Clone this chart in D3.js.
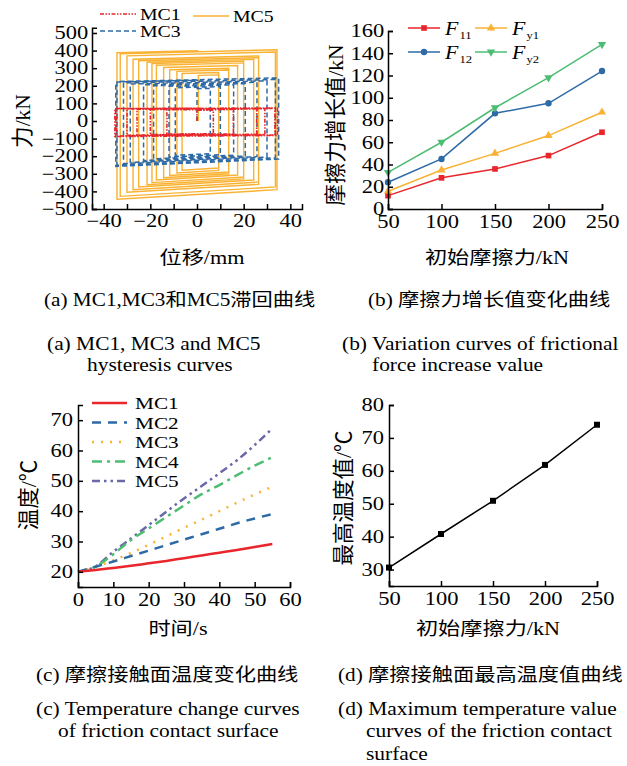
<!DOCTYPE html>
<html>
<head>
<meta charset="utf-8">
<script src="https://cdn.jsdelivr.net/npm/d3@7"></script>
<style>
  body { margin: 0; background: #fff; }
  svg { display: block; }
</style>
</head>
<body>
<svg id="fig" width="627" height="766"></svg>
<script>
// ---- data ----
// (a) hysteresis loops: each cycle goes up at the previous left end, across to right[i],
// down and back to left[i]
var mc5Right = [9.3, 9.3, 13.6, 13.6, 17.4, 20.0, 20.0, 24.3, 26.4, 26.4, 33.6, 34.3, 0.6];
var mc5Top   = [262, 275, 290, 300, 315, 330, 340, 350, 360, 370, 392, 405, 400];
var mc5Left  = [-6.4, -8.6, -11.7, -14.3, -17.4, -19.3, -21.4, -25.0, -27.4, -30.0, -32.9, -34.3];
var mc5Bot   = [-280, -295, -310, -322, -335, -350, -362, -375, -390, -405, -428, -445];

var mc3Right = [5.7, 10.0, 15.7, 20.7, 25.7, 30.0, 33.6, 35.0, 0.5];
var mc3Top   = [185, 195, 205, 212, 220, 228, 236, 245, 232];
var mc3Left  = [-9.3, -12.0, -18.6, -22.9, -28.6, -31.5, -34.3, -34.8];
var mc3Bot   = [-195, -205, -215, -225, -235, -242, -250, -258];

var mc1Right = [7.0, 15.6, 25.6, 29.1, 33.4, 34.5, 0.5];
var mc1Top   = [62, 65, 68, 70, 72, 74, 72];
var mc1Left  = [-12.9, -20.0, -25.7, -30.0, -34.5, -35.2];
var mc1Bot   = [-74, -77, -80, -82, -85, -88];

// (b) friction force increase
var initForce = [50, 100, 150, 200, 250];
var f11 = [12, 28, 36, 48, 69];
var f12 = [24, 45, 86, 95, 124];
var fy1 = [16, 35, 50, 66, 87];
var fy2 = [33, 60, 91, 118, 148];

// (c) temperature vs time
var time = [0, 5, 10, 15, 20, 25, 30, 35, 40, 45, 50, 55];
var tMC1 = [20, 20.6, 21.3, 22.0, 22.8, 23.6, 24.5, 25.4, 26.3, 27.2, 28.2, 29.2];
var tMC2 = [20, 21.7, 23.4, 25.2, 27.0, 28.8, 30.6, 32.4, 34.2, 36.0, 37.6, 39.0];
var tMC3 = [20, 21.7, 23.8, 26.2, 28.9, 31.7, 34.5, 37.2, 40.0, 42.8, 45.5, 48.0];
var tMC4 = [20, 21.8, 25.8, 30.5, 34.3, 38.1, 41.9, 45.6, 48.6, 51.9, 55.0, 57.8];
var tMC5 = [20, 21.8, 26.6, 31.0, 35.4, 39.8, 44.2, 48.3, 52.5, 56.8, 61.8, 67.3];

// (d) max temperature
var maxTemp = [30.6, 40.8, 50.9, 61.8, 74.0];

// captions: text, left x, baseline y, font size
var captions = [
  ["(a) MC1,MC3和MC5滞回曲线", 44, 306, 18], ["(b) 摩擦力增长值变化曲线", 368, 306, 18],
  ["(a) MC1, MC3 and MC5", 47, 350, 18], ["hysteresis curves", 87, 371, 18],
  ["(b) Variation curves of frictional", 342, 350, 18], ["force increase value", 372, 371, 18],
  ["(c) 摩擦接触面温度变化曲线", 36, 681, 18], ["(d) 摩擦接触面最高温度值曲线", 338, 681, 18],
  ["(c) Temperature change curves", 36, 715, 18], ["of friction contact surface", 58, 737, 18],
  ["(d) Maximum temperature value", 338, 715, 18], ["curves of the friction contact", 366, 737, 18],
  ["surface", 366, 760, 18]
];

var serif = "'Liberation Serif', 'Times New Roman', 'Noto Sans CJK SC', serif";
var cRed = "#e8262b", cBlue = "#2e6aa6", cOrange = "#f9b233", cGreen = "#4dbd74", cPurple = "#6b68a9";
var SX = 1.2; // the figure's lettering is drawn wide

var svg = d3.select("#fig").attr("font-family", serif);
svg.append("rect").attr("width", 627).attr("height", 766).attr("fill", "#fff");

function styleAxis(g) {
  g.attr("font-family", serif).attr("font-size", 18);
  g.selectAll("text").attr("fill", "#000").attr("font-family", serif)
    .attr("transform", "scale(1.25,1)");
  g.select(".domain").attr("stroke-width", 1.5);
  g.selectAll(".tick line").attr("stroke-width", 1.5);
}

// horizontally stretched text
function hText(x, y, txt, size, anchor, sx) {
  return svg.append("text")
    .attr("transform", "translate(" + x + "," + y + ") scale(" + (sx || SX) + ",1)")
    .attr("font-family", serif).attr("font-size", size)
    .attr("text-anchor", anchor || "start").text(txt);
}
function yLabel(x, y, txt) {
  svg.append("text").attr("transform", "translate(" + x + "," + y + ") rotate(-90)")
    .attr("font-family", serif).attr("text-anchor", "middle").attr("dy", "0.35em")
    .attr("font-size", 21.5).text(txt);
}
function xLabel(x, y, txt) {
  hText(x, y, txt, 18.5, "middle");
}

function hysteresis(start, right, top, left, bot, ts, bs) {
  var pts = [[start, 0]];
  var x = start;
  right.forEach(function (r, i) {
    pts.push([x, top[i] - ts * (r - x)]);
    pts.push([r, top[i]]);
    if (i < left.length) {
      pts.push([r, bot[i] + bs * (r - left[i])]);
      pts.push([left[i], bot[i]]);
      x = left[i];
    }
  });
  return pts;
}

// ================= (a) =================
var xA = d3.scaleLinear().domain([-45, 45]).range([92, 302]);
var yA = d3.scaleLinear().domain([-500, 530]).range([209, 27.7]);
var lineA = d3.line().x(function (d) { return xA(d[0]); }).y(function (d) { return yA(d[1]); });

svg.append("path").attr("d", lineA(hysteresis(0.6, mc5Right, mc5Top, mc5Left, mc5Bot, 0.35, 0.8)))
  .attr("fill", "none").attr("stroke", cOrange).attr("stroke-width", 1.4);
svg.append("path").attr("d", lineA(hysteresis(0, mc3Right, mc3Top, mc3Left, mc3Bot, 0.3, 0.6)))
  .attr("fill", "none").attr("stroke", cBlue).attr("stroke-width", 1.5).attr("stroke-dasharray", "5,3");
svg.append("path").attr("d", lineA(hysteresis(0, mc1Right, mc1Top, mc1Left, mc1Bot, 0.05, 0.08)))
  .attr("fill", "none").attr("stroke", cRed).attr("stroke-width", 1.6).attr("stroke-dasharray", "4,1.5,1.5,1.5,1.5,1.5");

svg.append("g").attr("transform", "translate(0,209)")
  .call(d3.axisBottom(xA).tickValues(d3.range(-40, 41, 10))
    .tickFormat(function (d) { return d % 20 === 0 ? String(d).replace("-", "\u2212") : ""; })
    .tickSizeInner(-5).tickSizeOuter(-5).tickPadding(5))
  .call(styleAxis);
svg.append("g").attr("transform", "translate(92,0)")
  .call(d3.axisLeft(yA).tickValues(d3.range(-500, 501, 100))
    .tickFormat(function (d) { return String(d).replace("-", "\u2212"); })
    .tickSizeInner(-5).tickSizeOuter(-5).tickPadding(3))
  .call(styleAxis);

yLabel(22, 121, "力/kN");
xLabel(202, 264, "位移/mm");

// legend (a)
var legA = [
  { name: "MC1", color: cRed, dash: "4,1.5,1.5,1.5,1.5,1.5", x: 100, y: 14 },
  { name: "MC5", color: cOrange, dash: null, x: 193, y: 16 },
  { name: "MC3", color: cBlue, dash: "5,3", x: 100, y: 31 }
];
legA.forEach(function (d) {
  svg.append("line").attr("x1", d.x).attr("x2", d.x + 36).attr("y1", d.y).attr("y2", d.y)
    .attr("stroke", d.color).attr("stroke-width", 1.6).attr("stroke-dasharray", d.dash);
  hText(d.x + 40, d.y + 6, d.name, 16.5);
});

// ================= (b) =================
var xB = d3.scaleLinear().domain([50, 250]).range([388, 602]);
var yB = d3.scaleLinear().domain([0, 160]).range([209, 31]);
var seriesB = [
  { key: "11", vals: f11, color: cRed, sym: d3.symbolSquare, size: 32, rot: 0 },
  { key: "12", vals: f12, color: cBlue, sym: d3.symbolCircle, size: 32, rot: 0 },
  { key: "y1", vals: fy1, color: cOrange, sym: d3.symbolTriangle, size: 30, rot: 0 },
  { key: "y2", vals: fy2, color: cGreen, sym: d3.symbolTriangle, size: 30, rot: 180 }
];
var lineB = d3.line().x(function (d, i) { return xB(initForce[i]); }).y(function (d) { return yB(d); });
seriesB.forEach(function (s) {
  svg.append("path").attr("d", lineB(s.vals)).attr("fill", "none")
    .attr("stroke", s.color).attr("stroke-width", 1.5);
  svg.append("g").selectAll("path").data(s.vals).join("path")
    .attr("d", d3.symbol().type(s.sym).size(s.size))
    .attr("transform", function (d, i) { return "translate(" + xB(initForce[i]) + "," + yB(d) + ") rotate(" + s.rot + ")"; })
    .attr("fill", s.color);
});
svg.append("g").attr("transform", "translate(0,209)")
  .call(d3.axisBottom(xB).tickValues(initForce).tickSizeInner(-5).tickSizeOuter(-5).tickPadding(6))
  .call(styleAxis);
svg.append("g").attr("transform", "translate(388,0)")
  .call(d3.axisLeft(yB).tickValues(d3.range(0, 161, 20)).tickSizeInner(-5).tickSizeOuter(-5).tickPadding(3))
  .call(styleAxis);
yLabel(335, 125, "摩擦力增长值/kN");
xLabel(497, 264, "初始摩擦力/kN");

var legB = [
  { s: seriesB[0], x: 408, y: 28 }, { s: seriesB[2], x: 475, y: 28 },
  { s: seriesB[1], x: 408, y: 52 }, { s: seriesB[3], x: 475, y: 52 }
];
legB.forEach(function (d) {
  svg.append("line").attr("x1", d.x).attr("x2", d.x + 32).attr("y1", d.y).attr("y2", d.y)
    .attr("stroke", d.s.color).attr("stroke-width", 1.5);
  svg.append("path").attr("d", d3.symbol().type(d.s.sym).size(d.s.size))
    .attr("transform", "translate(" + (d.x + 16) + "," + d.y + ") rotate(" + d.s.rot + ")")
    .attr("fill", d.s.color);
  var t = hText(d.x + 37, d.y + 7, "F", 19, "start", 1.15).attr("font-style", "italic");
  t.append("tspan").attr("font-style", "normal").attr("font-size", 11).attr("dx", 1).attr("dy", 4).text(d.s.key);
});

// ================= (c) =================
var xC = d3.scaleLinear().domain([0, 60]).range([78, 290]);
var yC = d3.scaleLinear().domain([15, 75]).range([587, 405]);
var seriesC = [
  { name: "MC1", vals: tMC1, color: cRed, dash: null },
  { name: "MC2", vals: tMC2, color: cBlue, dash: "9,7" },
  { name: "MC3", vals: tMC3, color: cOrange, dash: "2,7" },
  { name: "MC4", vals: tMC4, color: cGreen, dash: "10,5,3,5" },
  { name: "MC5", vals: tMC5, color: cPurple, dash: "8,4,2.5,4,2.5,4" }
];
var lineC = d3.line().curve(d3.curveMonotoneX)
  .x(function (d, i) { return xC(time[i]); }).y(function (d) { return yC(d); });
seriesC.slice().reverse().forEach(function (s) {
  svg.append("path").attr("d", lineC(s.vals)).attr("fill", "none")
    .attr("stroke", s.color).attr("stroke-width", 2.5).attr("stroke-dasharray", s.dash);
});
svg.append("g").attr("transform", "translate(0,587)")
  .call(d3.axisBottom(xC).tickValues(d3.range(0, 61, 10)).tickSizeInner(-5).tickSizeOuter(-5).tickPadding(6))
  .call(styleAxis);
svg.append("g").attr("transform", "translate(78,0)")
  .call(d3.axisLeft(yC).tickValues(d3.range(20, 71, 10)).tickSizeInner(-5).tickSizeOuter(-5).tickPadding(4))
  .call(styleAxis);
yLabel(28, 495, "温度/℃");
xLabel(178, 635, "时间/s");
seriesC.forEach(function (s, i) {
  var y = 403 + i * 19.5;
  svg.append("line").attr("x1", 92).attr("x2", 127).attr("y1", y).attr("y2", y)
    .attr("stroke", s.color).attr("stroke-width", 2.5).attr("stroke-dasharray", s.dash);
  hText(135, y + 6, s.name, 17, "start", 1.25);
});

// ================= (d) =================
var xD = d3.scaleLinear().domain([50, 250]).range([389, 597]);
var yD = d3.scaleLinear().domain([25, 80]).range([586, 405]);
var lineD = d3.line().x(function (d, i) { return xD(initForce[i]); }).y(function (d) { return yD(d); });
svg.append("path").attr("d", lineD(maxTemp)).attr("fill", "none").attr("stroke", "#000").attr("stroke-width", 1.5);
svg.append("g").selectAll("rect").data(maxTemp).join("rect")
  .attr("x", function (d, i) { return xD(initForce[i]) - 3; })
  .attr("y", function (d) { return yD(d) - 3; })
  .attr("width", 6).attr("height", 6).attr("fill", "#000");
svg.append("g").attr("transform", "translate(0,586)")
  .call(d3.axisBottom(xD).tickValues(initForce).tickSizeInner(-5).tickSizeOuter(-5).tickPadding(6))
  .call(styleAxis);
svg.append("g").attr("transform", "translate(389,0)")
  .call(d3.axisLeft(yD).tickValues(d3.range(30, 81, 10)).tickSizeInner(-5).tickSizeOuter(-5).tickPadding(4))
  .call(styleAxis);
yLabel(343, 498, "最高温度值/℃");
xLabel(488, 635, "初始摩擦力/kN");

// ================= captions =================
captions.forEach(function (c) {
  hText(c[1], c[2], c[0], c[3], "start", c[0].match(/[\u4e00-\u9fff]/) ? 1.18 : 1.19);
});
</script>
</body>
</html>
